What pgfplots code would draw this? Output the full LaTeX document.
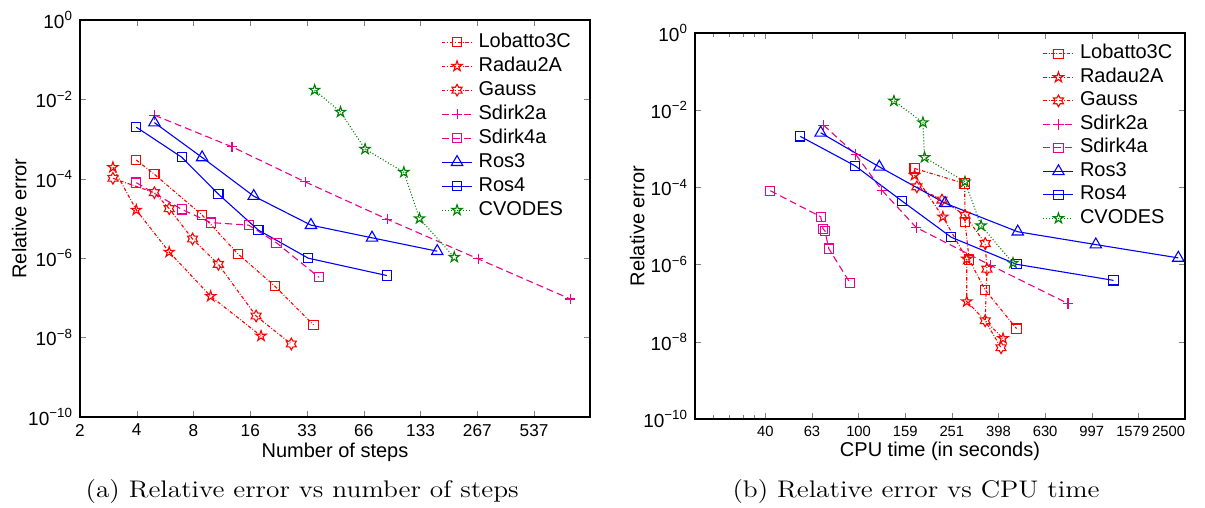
\documentclass[border=0pt]{standalone}
\usepackage{fontspec}
\newfontfamily\hv{Liberation Sans}
\usepackage{graphicx}
\usepackage{pgfplots}
\pgfplotsset{compat=1.18}

\pgfdeclareplotmark{pentagram}{%
  \pgfpathmoveto{\pgfpointpolar{90}{\pgfplotmarksize}}%
  \pgfpathlineto{\pgfpointpolar{126}{0.382*\pgfplotmarksize}}%
  \pgfpathlineto{\pgfpointpolar{162}{\pgfplotmarksize}}%
  \pgfpathlineto{\pgfpointpolar{198}{0.382*\pgfplotmarksize}}%
  \pgfpathlineto{\pgfpointpolar{234}{\pgfplotmarksize}}%
  \pgfpathlineto{\pgfpointpolar{270}{0.382*\pgfplotmarksize}}%
  \pgfpathlineto{\pgfpointpolar{306}{\pgfplotmarksize}}%
  \pgfpathlineto{\pgfpointpolar{342}{0.382*\pgfplotmarksize}}%
  \pgfpathlineto{\pgfpointpolar{18}{\pgfplotmarksize}}%
  \pgfpathlineto{\pgfpointpolar{54}{0.382*\pgfplotmarksize}}%
  \pgfpathclose
  \pgfusepathqstroke
}
\pgfdeclareplotmark{hexagram}{%
  \pgfpathmoveto{\pgfpointpolar{90}{\pgfplotmarksize}}%
  \pgfpathlineto{\pgfpointpolar{120}{0.577*\pgfplotmarksize}}%
  \pgfpathlineto{\pgfpointpolar{150}{\pgfplotmarksize}}%
  \pgfpathlineto{\pgfpointpolar{180}{0.577*\pgfplotmarksize}}%
  \pgfpathlineto{\pgfpointpolar{210}{\pgfplotmarksize}}%
  \pgfpathlineto{\pgfpointpolar{240}{0.577*\pgfplotmarksize}}%
  \pgfpathlineto{\pgfpointpolar{270}{\pgfplotmarksize}}%
  \pgfpathlineto{\pgfpointpolar{300}{0.577*\pgfplotmarksize}}%
  \pgfpathlineto{\pgfpointpolar{330}{\pgfplotmarksize}}%
  \pgfpathlineto{\pgfpointpolar{0}{0.577*\pgfplotmarksize}}%
  \pgfpathlineto{\pgfpointpolar{30}{\pgfplotmarksize}}%
  \pgfpathlineto{\pgfpointpolar{60}{0.577*\pgfplotmarksize}}%
  \pgfpathclose
  \pgfusepathqstroke
}
\definecolor{mgreen}{rgb}{0,0.5,0}

\tikzset{
  mydashdot/.style={line width=0.55pt, dash pattern=on 1.7pt off 0.9pt on 0.4pt off 0.9pt},
  lob/.style={red, mydashdot, mark=square, mark size=2.3pt, mark options={solid, red}},
  rad/.style={red, mydashdot, mark=pentagram, mark size=2.7pt, mark options={solid, red}},
  gau/.style={red, mydashdot, mark=hexagram, mark size=2.9pt, mark options={solid, red}},
  sdb/.style={magenta, line width=0.55pt, dash pattern=on 3.5pt off 2pt, mark=+, mark size=2.6pt, mark options={solid, magenta}},
  sdd/.style={magenta, line width=0.55pt, dash pattern=on 3.5pt off 2pt, mark=square, mark size=2.3pt, mark options={solid, magenta}},
  rosc/.style={blue, line width=0.55pt, solid, mark=triangle, mark size=3.3pt},
  rosd/.style={blue, line width=0.55pt, solid, mark=square, mark size=2.3pt},
  cvo/.style={mgreen, line width=0.55pt, dash pattern=on 0.5pt off 1pt, mark=pentagram, mark size=2.7pt, mark options={solid, mgreen}},
}

\begin{document}
\begin{tikzpicture}
\useasboundingbox (0,0) rectangle (602.5pt,254pt);
\begin{axis}[
  scale only axis, xmode=log, ymode=log,
  at={(40pt,45.5pt)}, anchor=south west, width=255pt, height=198.5pt,
  xmin=2, xmax=1070, ymin=1e-10, ymax=1,
  xtick={2,4.024,8.096,16.29,32.78,65.95,132.7,267.0,537.2},
  xticklabels={2,4,8,16,33,66,133,267,537},
  ytick={1e-10,1e-8,1e-6,1e-4,1e-2,1},
  yticklabels={10\textsuperscript{−10},10\textsuperscript{−8},10\textsuperscript{−6},10\textsuperscript{−4},10\textsuperscript{−2},10\textsuperscript{0}},
  xminorticks=false, yminorticks=false,
  xticklabel style={font=\hv\fontsize{8.6}{10}\selectfont},
  yticklabel style={font=\hv\fontsize{9.5}{11}\selectfont},
  tick align=inside, major tick length=3pt,
  axis line style={line width=0.6pt},
  xlabel={Number of steps},
  xlabel style={font=\hv, at={(axis description cs:0.5,-0.1008)}, anchor=base},
  ylabel={Relative error},
  ylabel style={font=\hv, at={(axis description cs:-0.119,0.5)}, anchor=center},
  legend cell align=left,
  legend image code/.code={\draw[mark repeat=2,mark phase=2] plot coordinates {(0pt,0pt) (7.5pt,0pt) (15pt,0pt)};},
  legend style={draw=none, fill=none, inner sep=0pt, outer sep=0pt, font=\hv,
      nodes={inner sep=0pt, text height=7pt, text depth=2pt}, column sep=3pt,
      at={(axis description cs:0.7088,0.9668)}, anchor=north west, row sep=3pt},
]
\addplot[lob] coordinates {(4,2.98e-4) (5,1.30e-4) (9,1.22e-5) (14,1.28e-6) (22,2.0e-7) (35.5,2.1e-8)};
\addlegendentry{Lobatto3C}
\addplot[rad] coordinates {(3,1.95e-4) (4,1.64e-5) (6,1.43e-6) (10,1.1e-7) (18.6,1.1e-8)};
\addlegendentry{Radau2A}
\addplot[gau] coordinates {(3,1.03e-4) (5,4.47e-5) (6,1.77e-5) (8,3.05e-6) (11,7.0e-7) (17.5,3.5e-8) (27,6.9e-9)};
\addlegendentry{Gauss}
\addplot[sdb] coordinates {(5,4.0e-3) (13,6.4e-4) (32,8.4e-5) (88,9.6e-6) (270,9.6e-7) (839,9.4e-8)};
\addlegendentry{Sdirk2a}
\addplot[sdd] coordinates {(4,8.0e-5) (7,1.7e-5) (10,7.9e-6) (16,6.8e-6) (22.5,2.44e-6) (38,3.3e-7)};
\addlegendentry{Sdirk4a}
\addplot[rosc] coordinates {(5,2.6e-3) (9,3.45e-4) (17,3.66e-5) (34.4,6.8e-6) (73,3.26e-6) (163,1.5e-6)};
\addlegendentry{Ros3}
\addplot[rosd] coordinates {(4,2.0e-3) (7,3.5e-4) (11,4.1e-5) (18,5.1e-6) (33.3,1.0e-6) (87.6,3.66e-7)};
\addlegendentry{Ros4}
\addplot[cvo] coordinates {(36,1.72e-2) (49.5,4.8e-3) (67,5.6e-4) (108,1.47e-4) (131,1.0e-5) (201,1.06e-6)};
\addlegendentry{CVODES}
\end{axis}

\begin{axis}[
  scale only axis, xmode=log, ymode=log,
  at={(347.5pt,44.5pt)}, anchor=south west, width=245pt, height=193pt,
  xmin=20, xmax=2500, ymin=1e-10, ymax=1,
  xtick={40,63.33,100.26,158.73,251.3,397.9,630.0,997.4,1579.1,2500},
  xticklabels={40,63,100,159,251,398,630,997,\makebox[0pt][r]{1579\hspace*{-5.4pt}},\makebox[0pt][r]{2500}},
  minor xtick={24,28,32,36},
  ytick={1e-10,1e-8,1e-6,1e-4,1e-2,1},
  yticklabels={10\textsuperscript{−10},10\textsuperscript{−8},10\textsuperscript{−6},10\textsuperscript{−4},10\textsuperscript{−2},10\textsuperscript{0}},
  yminorticks=false,
  xticklabel style={font=\hv\fontsize{7.4}{10}\selectfont},
  yticklabel style={font=\hv\fontsize{9.5}{11}\selectfont},
  tick align=inside, major tick length=3pt, minor tick length=1.8pt,
  axis line style={line width=0.6pt},
  xlabel={CPU time (in seconds)},
  xlabel style={font=\hv, at={(axis description cs:0.5,-0.0984)}, anchor=base},
  ylabel={Relative error},
  ylabel style={font=\hv, at={(axis description cs:-0.118,0.5)}, anchor=center},
  legend cell align=left,
  legend image code/.code={\draw[mark repeat=2,mark phase=2] plot coordinates {(0pt,0pt) (7.5pt,0pt) (15pt,0pt)};},
  legend style={draw=none, fill=none, inner sep=0pt, outer sep=0pt, font=\hv,
      nodes={inner sep=0pt, text height=7pt, text depth=2pt}, column sep=3pt,
      at={(axis description cs:0.710,0.9692)}, anchor=north west, row sep=2.75pt},
]
\addplot[lob] coordinates {(174,3.1e-4) (285,1.26e-4) (286,1.28e-5) (298,1.35e-6) (349,2.2e-7) (475,2.2e-8)};
\addlegendentry{Lobatto3C}
\addplot[rad] coordinates {(174,2.07e-4) (230,1.73e-5) (291,1.4e-6) (291,1.1e-7) (416,1.22e-8)};
\addlegendentry{Radau2A}
\addplot[gau] coordinates {(178,1.03e-4) (228,4.7e-5) (286,1.9e-5) (349,3.5e-6) (355,7.6e-7) (349,3.5e-8) (408,7e-9)};
\addlegendentry{Gauss}
\addplot[sdb] coordinates {(71,4.1e-3) (97.5,7.1e-4) (126,8.5e-5) (177,9.1e-6) (368,9.6e-7) (789,9.8e-8)};
\addlegendentry{Sdirk2a}
\addplot[sdd] coordinates {(42,8.2e-5) (69,1.74e-5) (70.6,8.5e-6) (72,7.4e-6) (74.7,2.6e-6) (92,3.4e-7)};
\addlegendentry{Sdirk4a}
\addplot[rosc] coordinates {(69,2.6e-3) (123,3.4e-4) (235,3.9e-5) (481,7.1e-6) (1038,3.3e-6) (2340,1.49e-6)};
\addlegendentry{Ros3}
\addplot[rosd] coordinates {(56.4,2.1e-3) (97,3.6e-4) (154,4.4e-5) (250,5.1e-6) (475,1.02e-6) (1236,3.9e-7)};
\addlegendentry{Ros4}
\addplot[cvo] coordinates {(142,1.74e-2) (189,4.8e-3) (192,6.0e-4) (286,1.4e-4) (335,1.02e-5) (459,1.1e-6)};
\addlegendentry{CVODES}
\end{axis}

\node[anchor=base, inner sep=0pt] at (151.1pt,5.35pt) {\scalebox{1.14}[1]{\fontsize{12}{14}\selectfont (a)\ Relative error vs number of steps}};
\node[anchor=base, inner sep=0pt] at (458pt,5.35pt) {\scalebox{1.14}[1]{\fontsize{12}{14}\selectfont (b)\ Relative error vs CPU time}};
\end{tikzpicture}
\end{document}
